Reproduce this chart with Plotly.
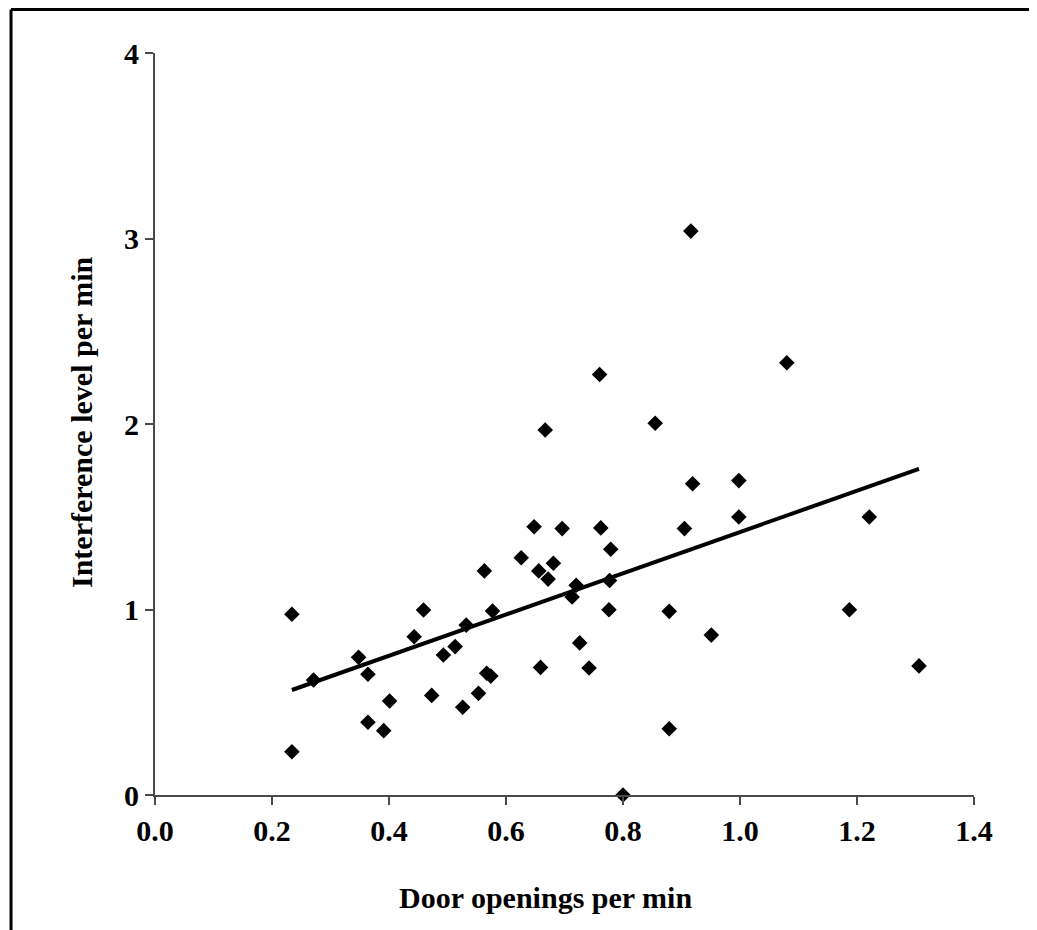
import plotly.graph_objects as go

door_openings = [0.234, 0.234, 0.271, 0.348, 0.364, 0.401, 0.364, 0.391, 0.443, 0.459,
                 0.473, 0.493, 0.513, 0.532, 0.526, 0.553, 0.563, 0.567, 0.574, 0.577,
                 0.626, 0.648, 0.659, 0.656, 0.672, 0.681, 0.667, 0.916, 1.080, 0.760,
                 0.855, 0.919, 0.998, 0.998, 1.221, 0.905, 0.762, 0.696, 0.779, 0.720,
                 0.713, 0.777, 0.776, 0.879, 1.187, 0.726, 0.951, 0.742, 1.306, 0.879,
                 0.800]
interference = [0.974, 0.233, 0.620, 0.742, 0.651, 0.507, 0.392, 0.347, 0.853, 0.997,
                0.537, 0.755, 0.800, 0.916, 0.473, 0.548, 1.208, 0.656, 0.641, 0.992,
                1.279, 1.446, 0.688, 1.208, 1.164, 1.249, 1.968, 3.040, 2.330, 2.267,
                2.004, 1.678, 1.695, 1.499, 1.499, 1.436, 1.440, 1.436, 1.325, 1.131,
                1.068, 1.156, 0.999, 0.990, 0.999, 0.820, 0.862, 0.685, 0.696, 0.357,
                0.000]
fit_x = [0.234, 1.306]
fit_y = [0.566, 1.758]

x_ticks = [0.0, 0.2, 0.4, 0.6, 0.8, 1.0, 1.2, 1.4]
x_tick_labels = ["0.0", "0.2", "0.4", "0.6", "0.8", "1.0", "1.2", "1.4"]
y_ticks = [0, 1, 2, 3, 4]
y_tick_labels = ["0", "1", "2", "3", "4"]

font_family = "Liberation Serif"

fig = go.Figure()
fig.add_trace(go.Scatter(x=fit_x, y=fit_y, mode="lines",
                         line=dict(color="black", width=4), cliponaxis=False,
                         showlegend=False, hoverinfo="skip"))
fig.add_trace(go.Scatter(x=door_openings, y=interference, mode="markers",
                         marker=dict(symbol="diamond", size=12, color="black"),
                         cliponaxis=False, showlegend=False))

axis_common = dict(showline=True, linecolor="#4a4a4a", linewidth=2, ticks="outside",
                   ticklen=8, tickwidth=2, tickcolor="#4a4a4a", showgrid=False,
                   zeroline=False,
                   tickfont=dict(family=font_family, size=30, color="black", weight="bold"))

fig.update_layout(
    width=1029, height=922,
    margin=dict(l=147, r=63, t=45, b=135),
    plot_bgcolor="white", paper_bgcolor="white",
    xaxis=dict(range=[0, 1.4], tickvals=x_ticks, ticktext=x_tick_labels, **axis_common),
    yaxis=dict(range=[0, 4], tickvals=y_ticks, ticktext=y_tick_labels, **axis_common),
    annotations=[
        dict(text="Door openings per min", xref="paper", yref="paper",
             x=0.477, y=-0.1388, xanchor="center", yanchor="middle", showarrow=False,
             font=dict(family=font_family, size=30, color="black", weight="bold")),
        dict(text="Interference level per min", xref="paper", yref="paper",
             x=-0.0891, y=0.5027, xanchor="center", yanchor="middle", textangle=-90,
             showarrow=False,
             font=dict(family=font_family, size=30, color="black", weight="bold")),
    ],
    shapes=[
        dict(type="line", xref="paper", yref="paper", x0=-0.1758, x1=1.1, y0=1.0586, y1=1.0586,
             line=dict(color="black", width=3)),
        dict(type="line", xref="paper", yref="paper", x0=-0.1758, x1=-0.1758, y0=1.0586, y1=-0.2,
             line=dict(color="black", width=3)),
    ],
)

fig.write_html("out.html")
